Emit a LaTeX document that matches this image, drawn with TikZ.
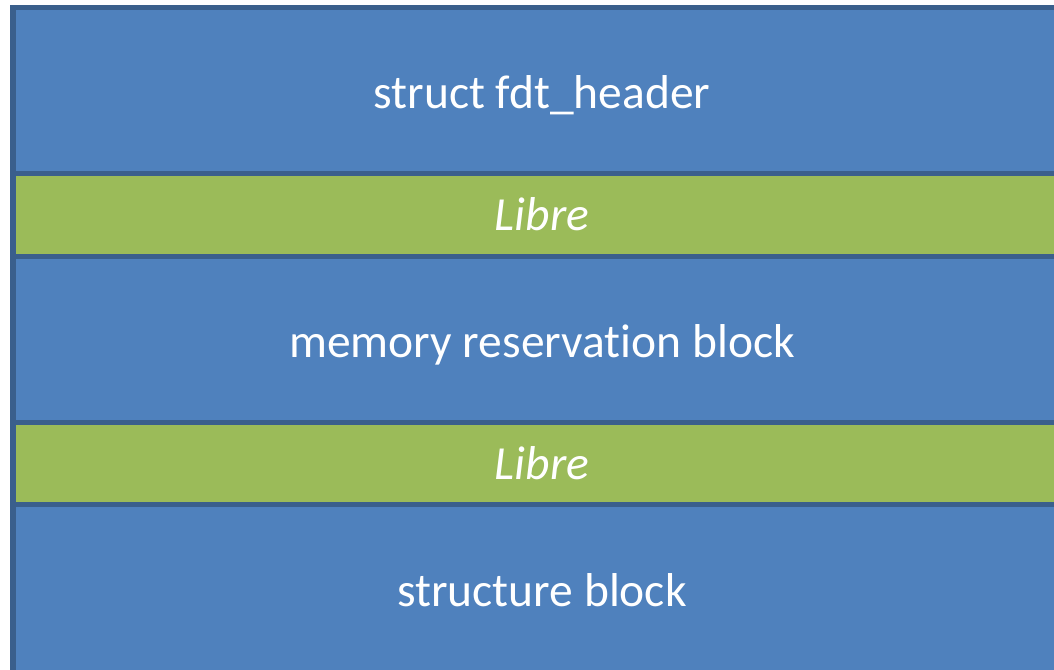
\documentclass[tikz,border=0pt]{standalone}
\usepackage{fontspec}
\setmainfont{Carlito}[Ligatures=CommonOff]
\definecolor{blockblue}{HTML}{4F81BD}
\definecolor{freegreen}{HTML}{9BBB59}
\definecolor{edgeblue}{HTML}{3A5F8C}
\tikzset{
  layer/.style={draw=edgeblue, line width=5.5pt},
  usedlayer/.style={layer, fill=blockblue},
  freelayer/.style={layer, fill=freegreen},
  label/.style={text=white, anchor=base, inner sep=0pt,
    font=\fontsize{47.5}{56}\selectfont},
  freelabel/.style={label, font=\fontsize{47.5}{56}\selectfont\itshape},
}
\begin{document}
\begin{tikzpicture}[x=1pt, y=-1pt]
  \useasboundingbox (0,0) rectangle (1054,669);
  \clip (0,0) rectangle (1054,669);
  \fill[white] (0,0) rectangle (1054,669);
  % layout of the blob, top to bottom
  \draw[usedlayer] (13,7.5)   rectangle (1080,173.5);
  \draw[freelayer] (13,173.5) rectangle (1080,256.5);
  \draw[usedlayer] (13,256.5) rectangle (1080,422.5);
  \draw[freelayer] (13,422.5) rectangle (1080,504.5);
  \draw[usedlayer] (13,504.5) rectangle (1080,700);
  % labels
  \node[label]     (hdr)  at (542,108) {struct fdt\_header};
  \node[freelabel] (gap1) at (542,230) {Libre};
  \node[label]     (mem)  at (542,357) {memory reservation block};
  \node[freelabel] (gap2) at (542,479) {Libre};
  \node[label]     (str)  at (542,606) {structure block};
\end{tikzpicture}
\end{document}
